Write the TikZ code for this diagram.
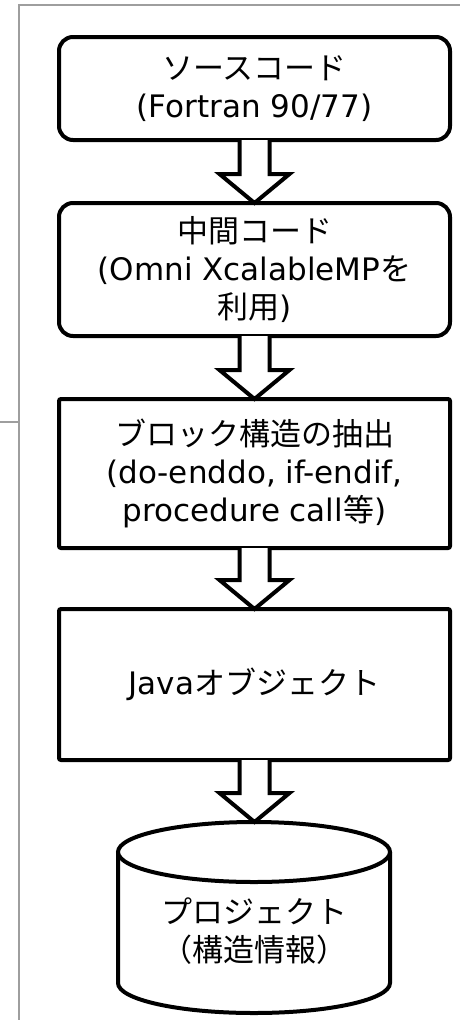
\documentclass[tikz,border=0pt]{standalone}
\usepackage{fontspec}
\setmainfont{DejaVu Sans}
\newfontfamily\jp{Noto Sans CJK JP}
\usetikzlibrary{calc}
\tikzset{
  frameline/.style={draw=black!38, line width=1.5pt},
  roundbox/.style={draw, line width=4pt, rounded corners=14pt, minimum width=391pt, align=center, inner sep=0pt, outer sep=0pt, fill=white, font=\fontsize{31}{38}\selectfont},
  sqbox/.style={draw, line width=4pt, rounded corners=2pt, minimum width=391pt, align=center, inner sep=0pt, outer sep=0pt, fill=white, font=\fontsize{31}{38}\selectfont},
  blockarrow/.style={draw, line width=4pt, fill=white, line join=miter},
  cyl/.style={draw, line width=4pt, fill=white},
  cyltext/.style={align=center, inner sep=0pt, font=\fontsize{31}{38}\selectfont}
}
\newcommand{\blockarr}[2]{%
  \path let \p1=(#1.south), \p2=(#2.north) in
    [blockarrow] (\x1-15pt,\y1) -- (\x1-15pt,\y2+29pt) -- (\x1-35pt,\y2+29pt)
    -- (\x1,\y2) -- (\x1+35pt,\y2+29pt) -- (\x1+15pt,\y2+29pt) -- (\x1+15pt,\y1);
}
\begin{document}
\begin{tikzpicture}[x=1pt,y=-1pt]
\useasboundingbox (0,0) rectangle (460,1020);
% frame
\coordinate (ftr) at (460,5);
\coordinate (ftl) at (19,5);
\coordinate (fbl) at (19,1020);
\coordinate (sl) at (0,422);
\coordinate (sr) at (19,422);
\draw[frameline] (ftr) -- (ftl) -- (fbl);
\draw[frameline] (sl) -- (sr);
% boxes
\node[roundbox, minimum height=103pt] (b1) at (254.5,88.5)
  {{\jp ソースコード}\\(Fortran 90/77)};
\node[roundbox, minimum height=133pt] (b2) at (254.5,269.5)
  {{\jp 中間コード}\\(Omni XcalableMP{\jp を}\\{\jp 利用})};
\node[sqbox, minimum height=149pt] (b3) at (254.5,473.5)
  {{\jp ブロック構造の抽出}\\(do-enddo, if-endif,\\procedure call{\jp 等})};
\node[sqbox, minimum height=151pt] (b4) at (254.5,684.5)
  {Java{\jp オブジェクト}};
% cylinder
\coordinate (ctop) at (254,822);
\draw[cyl] (118,852) -- (118,983) arc[start angle=180, end angle=360, x radius=136pt, y radius=30pt] -- (390,852);
\draw[cyl] (254,852) ellipse[x radius=136pt, y radius=30pt];
\node[cyltext] (b5) at (254,931) {{\jp プロジェクト}\\{\jp （構造情報）}};
% arrows
\blockarr{b1}{b2}
\blockarr{b2}{b3}
\blockarr{b3}{b4}
\blockarr{b4}{ctop}
\end{tikzpicture}
\end{document}
